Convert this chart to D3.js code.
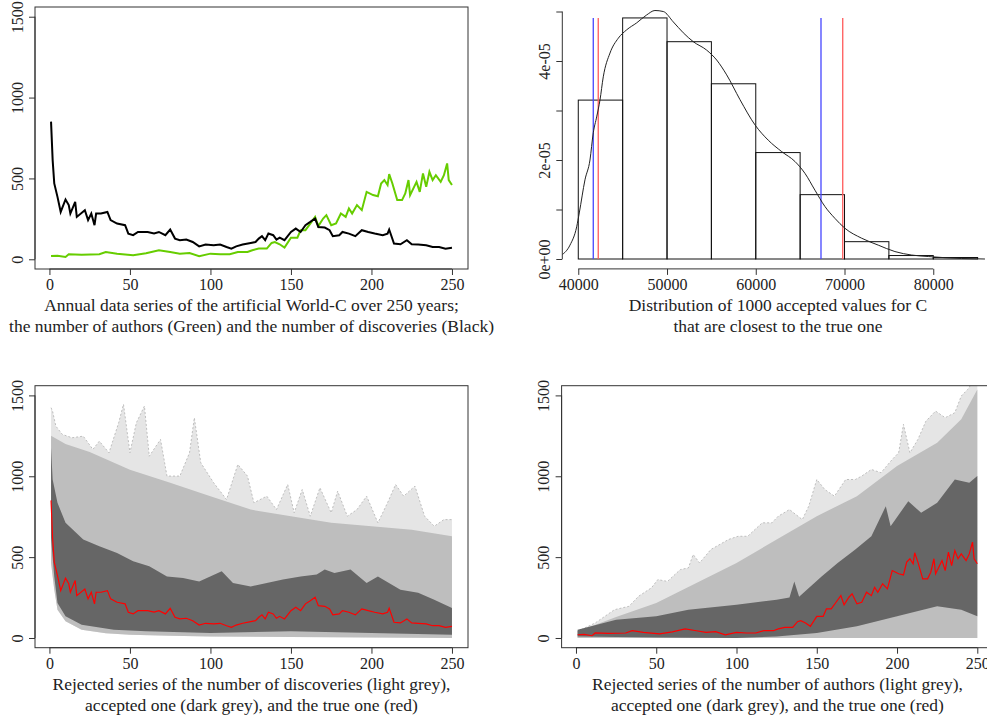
<!DOCTYPE html>
<html lang="en">
<head>
<meta charset="UTF-8">
<title>World-C</title>
<script src="https://cdn.jsdelivr.net/npm/d3@7"></script>
<style>
  body { margin: 0; background: #fff; }
  svg text { font-family: "Liberation Serif", "Times New Roman", serif; fill: #222; }
  .axis text { font-size: 16px; }
  .cap { font-size: 17.5px; }
</style>
</head>
<body>
<svg id="chart" width="987" height="722"></svg>
<script>
// true series
const discYears = [1,2,3,5,7,10,12,13,16,17,22,24,26,28,29,32,36,38,42,47,49,52,55,58,61,65,68,72,75,78,81,85,89,93,97,102,106,110,113,116,120,125,128,130,132,134,136,139,141,143,146,150,153,156,159,162,165,167,171,174,176,180,182,186,190,194,198,202,207,210,211,214,218,222,225,229,234,238,242,246,250];
const discValues = [851,613,469,386,293,370,335,283,355,262,303,242,283,211,283,283,293,242,221,211,159,149,169,169,169,160,169,149,184,128,118,122,107,80,91,87,91,76,66,80,91,101,107,128,143,118,159,149,122,134,118,169,190,169,211,231,252,200,196,180,143,149,169,159,143,180,169,159,149,159,184,97,93,118,93,91,87,76,76,66,72];
const authYears = [1,5,10,12,20,31,35,42,52,60,68,75,81,87,93,100,106,112,117,123,126,130,135,138,140,143,146,150,154,156,159,162,165,167,170,172,175,178,181,184,186,188,191,194,197,201,204,206,208,210,211,213,216,219,221,223,224,228,230,232,234,236,238,240,243,245,247,248,250];
const authValues = [20,22,14,31,28,31,45,35,25,38,56,45,35,39,19,35,31,31,45,45,56,66,66,101,107,93,72,134,134,180,180,221,262,205,252,273,211,221,283,262,314,283,335,304,417,397,390,469,490,459,527,469,366,366,407,490,397,479,417,531,448,541,490,520,479,520,593,490,459];

// histogram of accepted C
const binStarts = [40000,45000,50000,55000,60000,65000,70000,75000,80000];
const binWidth = 5000;
const binDensity = [3.21e-5,4.87e-5,4.39e-5,3.54e-5,2.15e-5,1.30e-5,0.35e-5,0.07e-5,0.03e-5];
const densC = [38130,39065,39820,40113,40755,41318,41690,42073,42445,42817,43572,44507,45454,46580,47707,48642,49577,50704,51831,52958,54468,55594,56721,58220,59910,61408,62918,64417,65544,66670,67797,68924,70051,71932,73803,75684,77566,79437,83200,85825];
const densV = [0.08,0.28,0.65,0.93,1.60,2.00,2.55,2.87,3.21,3.68,4.16,4.46,4.63,4.77,4.93,5.02,5.00,4.79,4.57,4.39,4.22,4.02,3.72,3.22,2.71,2.40,2.17,1.97,1.73,1.39,1.06,0.82,0.62,0.42,0.28,0.15,0.08,0.05,0.01,0.00].map(v => v * 1e-5);
const blueLines = [41690, 67350];
const redLines = [42250, 69800];

// discoveries: envelopes of rejected / accepted runs
const discRejFringeYears = [1,2,4,8,14,21,27,31,37,43,46,50,54,59,62,69,73,81,87,90,94,102,110,117,123,127,135,141,148,152,157,162,168,175,179,185,191,197,204,210,215,220,227,233,239,245,250];
const discRejFringeValues = [1424,1400,1310,1259,1238,1248,1166,1217,1145,1331,1445,1145,1331,1434,1124,1228,1001,1001,1145,1362,1083,960,856,1073,1001,836,877,794,949,774,918,753,929,774,908,753,794,877,712,836,949,877,939,753,691,732,732];
const discRejTopYears = [1,10,25,50,75,100,125,150,175,200,225,250];
const discRejTopValues = [1250,1200,1150,1040,960,877,794,753,712,691,670,629];
const discRejLowYears = [1,3,5,10,20,35,50,75,100,150,200,250];
const discRejLowValues = [464,300,175,103,51,30,20,14,10,6,3,0];
const discAccTopYears = [1,2,5,10,21,31,42,52,62,73,83,93,107,114,125,135,145,156,166,171,177,187,197,204,218,229,239,250];
const discAccTopValues = [1176,980,836,712,609,567,526,474,443,381,371,350,412,340,319,340,361,381,392,423,402,423,340,381,299,279,237,186];
const discAccLowYears = [1,3,5,10,20,40,60,100,150,200,250];
const discAccLowValues = [620,381,217,134,82,51,41,31,41,31,20];

// authors: envelopes of rejected / accepted runs
const authRejFringeYears = [1,12,24,33,39,47,51,57,65,70,73,77,84,95,101,107,116,122,126,133,141,145,150,155,161,168,174,178,184,190,197,201,204,208,213,218,224,230,236,240,244,247,250];
const authRejFringeValues = [41,93,175,196,258,310,361,350,423,433,516,464,547,609,629,629,712,712,753,794,732,815,980,918,877,980,980,1001,1042,1022,1104,1145,1321,1145,1228,1341,1403,1362,1393,1496,1537,1580,1600];
const authRejTopYears = [1,25,50,75,100,125,150,175,200,225,240,250];
const authRejTopValues = [40,130,217,340,464,609,753,877,1063,1207,1352,1537];
const authRejLowYears = [1,250];
const authRejLowValues = [0,0];
const authAccTopYears = [1,25,50,70,100,125,133,136,139,153,163,174,184,193,196,207,215,225,236,245,250];
const authAccTopValues = [51,113,134,175,206,237,250,350,255,381,464,547,629,815,691,846,774,836,980,960,1001];
const authAccLowYears = [1,50,100,125,150,175,200,225,240,250];
const authAccLowValues = [10,3,0,10,31,72,134,196,175,134];

const yearTicks = [0,50,100,150,200,250];
const countTicks = [0,500,1000,1500];
const cTicks = [40000,50000,60000,70000,80000];
const densTicks = [0,1e-5,2e-5,3e-5,4e-5,5e-5];

const LIGHT = "#bebebe", DARK = "#666666";
const svg = d3.select("#chart");
const yrDomain = [-8.96, 259.96];
const cntDomain = [-60, 1560];

const zip = (xs, ys) => xs.map((x, i) => [x, ys[i]]);

function bottomAxis(g, x, y0, ticks, fmt) {
  const a = g.append("g").attr("class", "axis").attr("transform", `translate(0,${y0})`)
    .call(d3.axisBottom(x).tickValues(ticks).tickSize(6).tickPadding(4).tickFormat(fmt));
  a.select(".domain").remove();
  a.selectAll(".tick line").attr("stroke", "#333");
  a.append("line").attr("x1", x(ticks[0])).attr("x2", x(ticks[ticks.length - 1]))
    .attr("stroke", "#333");
}

function leftAxis(g, y, x0, ticks, fmt) {
  const a = g.append("g").attr("class", "axis").attr("transform", `translate(${x0},0)`)
    .call(d3.axisLeft(y).tickValues(ticks).tickSize(6).tickFormat(fmt));
  a.select(".domain").remove();
  a.selectAll(".tick line").attr("stroke", "#333");
  a.selectAll(".tick text").attr("x", null).attr("text-anchor", "middle")
    .attr("transform", "translate(-18,0) rotate(-90)").attr("dy", "0.35em");
  a.append("line").attr("y1", y(ticks[0])).attr("y2", y(ticks[ticks.length - 1]))
    .attr("stroke", "#333");
}

function caption(lines, cx, y0) {
  lines.forEach((t, i) => svg.append("text").attr("class", "cap")
    .attr("x", cx).attr("y", y0 + i * 21).attr("text-anchor", "middle").text(t));
}

function clipFor(id, x0, y0, w, h) {
  svg.append("clipPath").attr("id", id).append("rect")
    .attr("x", x0).attr("y", y0).attr("width", w).attr("height", h);
  return `url(#${id})`;
}

// ---- panel 1: true series
{
  const L = 35, R = 468, T = 7, B = 269;
  const x = d3.scaleLinear().domain(yrDomain).range([L, R]);
  const y = d3.scaleLinear().domain(cntDomain).range([B, T]);
  const g = svg.append("g");
  const plot = g.append("g").attr("clip-path", clipFor("c1", L, T, R - L, B - T));
  const line = d3.line().x(d => x(d[0])).y(d => y(d[1]));
  plot.append("path").datum(zip(authYears, authValues)).attr("d", line)
    .attr("fill", "none").attr("stroke", "#66cd00").attr("stroke-width", 2);
  plot.append("path").datum(zip(discYears, discValues)).attr("d", line)
    .attr("fill", "none").attr("stroke", "#000").attr("stroke-width", 2);
  g.append("rect").attr("x", L).attr("y", T).attr("width", R - L).attr("height", B - T)
    .attr("fill", "none").attr("stroke", "#333");
  bottomAxis(g, x, B, yearTicks, d3.format("d"));
  leftAxis(g, y, L, countTicks, d3.format("d"));
  caption(["Annual data series of the artificial World-C over 250 years;",
           "the number of authors (Green) and the number of discoveries (Black)"], (L + R) / 2, 311);
}

// ---- panel 2: histogram of accepted C
{
  const L = 562.3, R = 993.6, T = 1.6, B = 268.9;
  const x = d3.scaleLinear().domain([38200, 86800]).range([L, R]);
  const y = d3.scaleLinear().domain([-2e-6, 5.2e-5]).range([B, T]);
  const g = svg.append("g");
  const plot = g.append("g").attr("clip-path", clipFor("c2", L, T, R - L, B - T));
  plot.selectAll("rect.bin").data(binStarts).join("rect").attr("class", "bin")
    .attr("x", d => x(d)).attr("width", d => x(d + binWidth) - x(d))
    .attr("y", (d, i) => y(binDensity[i])).attr("height", (d, i) => y(0) - y(binDensity[i]))
    .attr("fill", "none").attr("stroke", "#111").attr("stroke-width", 1);
  const top = d3.max(binDensity);
  plot.selectAll("line.blue").data(blueLines).join("line").attr("class", "blue")
    .attr("x1", d => x(d)).attr("x2", d => x(d)).attr("y1", y(0)).attr("y2", y(top))
    .attr("stroke", "#4646ff").attr("stroke-width", 1.3);
  plot.selectAll("line.red").data(redLines).join("line").attr("class", "red")
    .attr("x1", d => x(d)).attr("x2", d => x(d)).attr("y1", y(0)).attr("y2", y(top))
    .attr("stroke", "#ff5a5a").attr("stroke-width", 1.3);
  plot.append("path").datum(zip(densC, densV))
    .attr("d", d3.line().curve(d3.curveMonotoneX).x(d => x(d[0])).y(d => y(d[1])))
    .attr("fill", "none").attr("stroke", "#222").attr("stroke-width", 1);
  bottomAxis(g, x, B, cTicks, d3.format("d"));
  leftAxis(g, y, L, densTicks, d => {
    const k = Math.round(d * 1e5);
    return k % 2 === 0 ? k + "e" + (k === 0 ? "+00" : "-05") : "";
  });
  caption(["Distribution of 1000 accepted values for C",
           "that are closest to the true one"], (L + R) / 2, 311);
}

// ---- panels 3 & 4: rejected / accepted runs
function runsPanel(id, L, R, set, trueYears, trueValues, cap) {
  const T = 385.7, B = 647.7;
  const x = d3.scaleLinear().domain(yrDomain).range([L, R]);
  const y = d3.scaleLinear().domain(cntDomain).range([B, T]);
  const g = svg.append("g");
  const plot = g.append("g").attr("clip-path", clipFor(id, L, T, R - L, B - T));
  // band between an upper and a lower boundary, each read at its own years
  const band = (upY, upV, loY, loV) => {
    const up = zip(upY, upV), lo = zip(loY, loV).reverse();
    return "M" + up.map(d => [x(d[0]), y(d[1])]).join("L") +
           "L" + lo.map(d => [x(d[0]), y(d[1])]).join("L") + "Z";
  };
  plot.append("path").attr("d", band(set.fringeY, set.fringeV, set.lowY, set.lowV))
    .attr("fill", LIGHT).attr("fill-opacity", 0.4);
  plot.append("path").datum(zip(set.fringeY, set.fringeV))
    .attr("d", d3.line().x(d => x(d[0])).y(d => y(d[1])))
    .attr("fill", "none").attr("stroke", LIGHT).attr("stroke-dasharray", "2,2");
  plot.append("path").attr("d", band(set.topY, set.topV, set.lowY, set.lowV)).attr("fill", LIGHT);
  plot.append("path").attr("d", band(set.accTopY, set.accTopV, set.accLowY, set.accLowV)).attr("fill", DARK);
  plot.append("path").datum(zip(trueYears, trueValues))
    .attr("d", d3.line().x(d => x(d[0])).y(d => y(d[1])))
    .attr("fill", "none").attr("stroke", "#ff0000").attr("stroke-width", 1.2);
  g.append("rect").attr("x", L).attr("y", T).attr("width", R - L).attr("height", B - T)
    .attr("fill", "none").attr("stroke", "#333");
  bottomAxis(g, x, B, yearTicks, d3.format("d"));
  leftAxis(g, y, L, countTicks, d3.format("d"));
  caption(cap, (L + R) / 2, 690);
}

runsPanel("c3", 35, 468, {
  fringeY: discRejFringeYears, fringeV: discRejFringeValues,
  topY: discRejTopYears, topV: discRejTopValues,
  lowY: discRejLowYears, lowV: discRejLowValues,
  accTopY: discAccTopYears, accTopV: discAccTopValues,
  accLowY: discAccLowYears, accLowV: discAccLowValues
}, discYears, discValues,
["Rejected series of the number of discoveries (light grey),",
 "accepted one (dark grey), and the true one (red)"]);

runsPanel("c4", 561.6, 993.3, {
  fringeY: authRejFringeYears, fringeV: authRejFringeValues,
  topY: authRejTopYears, topV: authRejTopValues,
  lowY: authRejLowYears, lowV: authRejLowValues,
  accTopY: authAccTopYears, accTopV: authAccTopValues,
  accLowY: authAccLowYears, accLowV: authAccLowValues
}, authYears, authValues,
["Rejected series of the number of authors (light grey),",
 "accepted one (dark grey), and the true one (red)"]);
</script>
</body>
</html>
